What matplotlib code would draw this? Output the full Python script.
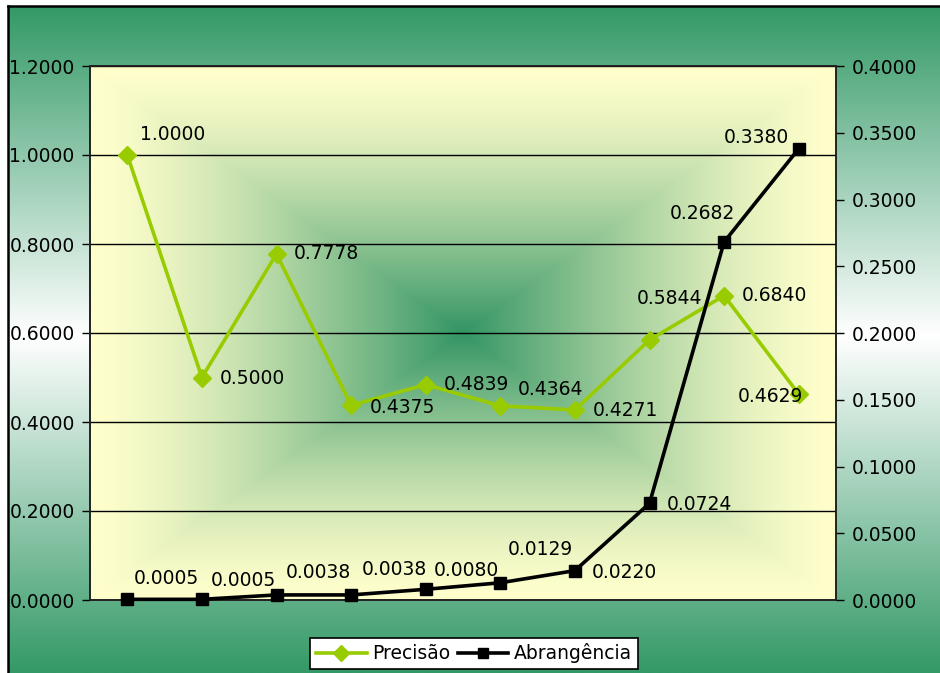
import numpy as np
import matplotlib
matplotlib.use("Agg")
import matplotlib.pyplot as plt
from matplotlib.ticker import FormatStrFormatter, MultipleLocator
from matplotlib.lines import Line2D

# ---- data ----
categories = list(range(10))
precisao = [1.0000, 0.5000, 0.7778, 0.4375, 0.4839, 0.4364, 0.4271, 0.5844, 0.6840, 0.4629]
abrangencia = [0.0005, 0.0005, 0.0038, 0.0038, 0.0080, 0.0129, 0.0220, 0.0724, 0.2682, 0.3380]
precisao_labels = ["1.0000", "0.5000", "0.7778", "0.4375", "0.4839", "0.4364", "0.4271", "0.5844", "0.6840", "0.4629"]
abrangencia_labels = ["0.0005", "0.0005", "0.0038", "0.0038", "0.0080", "0.0129", "0.0220", "0.0724", "0.2682", "0.3380"]
series_names = ["Precisão", "Abrangência"]

# label offsets (pixels, x right / y up) — layout only
prec_off = [(45, 20), (50, -1), (50, 0), (51, -2), (51, 0), (50, 16), (51, -1), (20, 41), (50, 0), (-28, -2)]
abr_off = [(39, 21), (41, 19), (42, 22), (43, 25), (41, 19), (40, 33), (49, -2), (50, -1), (-22, 28), (-42, 11)]

W, H = 940, 673
FS = 13.5
fig = plt.figure(figsize=(W / 100, H / 100), dpi=100)
fig.patch.set_facecolor("white")

green = np.array([0x33, 0x99, 0x66]) / 255.0
white = np.array([1.0, 1.0, 1.0])
yellow = np.array([0xFF, 0xFF, 0xCC]) / 255.0

# ---- outer background (vertical gradient green-white-green) ----
bx0 = 8 / W
by1 = (H - 6) / H
bg = fig.add_axes([bx0, 0, 1 - bx0, by1], zorder=-10)
ny = 400
yy = np.linspace(0, 1, ny)
mid = (336 - 6) / (H - 6)
t = np.where(yy < mid, yy / mid, (1 - yy) / (1 - mid))
t = np.clip(t, 0, 1)
grad = green[None, :] * (1 - t[:, None]) + white[None, :] * t[:, None]
bg.imshow(grad[:, None, :], aspect="auto", extent=(0, 1, 0, 1), origin="upper")
bg.set_xlim(0, 1); bg.set_ylim(0, 1)
bg.set_xticks([]); bg.set_yticks([])
for s in ["right", "bottom"]:
    bg.spines[s].set_visible(False)
for s in ["left", "top"]:
    bg.spines[s].set_linewidth(1.8)
    bg.spines[s].set_color("black")

# ---- main axes ----
L, R, T, B = 90, 836, 66, 600
ax = fig.add_axes([L / W, (H - B) / H, (R - L) / W, (B - T) / H])
ax.set_xlim(-0.5, 9.5)
ax.set_ylim(0, 1.2)

# rectangular "from center" gradient in plot area
nx, nyy = 300, 220
gx = np.linspace(-1, 1, nx)
gy = np.linspace(-1, 1, nyy)
GX, GY = np.meshgrid(gx, gy)
lev = np.maximum(np.abs(GX), np.abs(GY))
w = np.clip(1 - lev, 0, 1) ** 1.4
center_green = np.array([0x33, 0x94, 0x64]) / 255.0
img = center_green[None, None, :] * w[..., None] + yellow[None, None, :] * (1 - w[..., None])
ax.imshow(img, aspect="auto", extent=(-0.5, 9.5, 0, 1.2), origin="lower", zorder=0)

ax.yaxis.set_major_locator(MultipleLocator(0.2))
ax.yaxis.set_major_formatter(FormatStrFormatter("%.4f"))
ax.set_xticks([])
ax.grid(axis="y", color="black", linewidth=1.0, zorder=1)
ax.set_axisbelow(False)
for s in ax.spines.values():
    s.set_color("#222222")
    s.set_linewidth(1.2)
ax.tick_params(axis="y", direction="out", length=6, width=1, labelsize=FS, pad=5, colors="black")

ax.plot(categories, precisao, color="#99CC00", linewidth=2.6, marker="D", markersize=9,
        markeredgecolor="#99CC00", markerfacecolor="#99CC00", zorder=3, clip_on=False)

ax2 = ax.twinx()
ax2.set_ylim(0, 0.4)
ax2.yaxis.set_major_locator(MultipleLocator(0.05))
ax2.yaxis.set_major_formatter(FormatStrFormatter("%.4f"))
ax2.tick_params(axis="y", direction="out", length=6, width=1, labelsize=FS, pad=5, colors="black")
for s in ax2.spines.values():
    s.set_color("#222222")
    s.set_linewidth(1.2)
ax2.plot(categories, abrangencia, color="black", linewidth=2.6, marker="s", markersize=8.5,
         markeredgecolor="black", markerfacecolor="black", zorder=3, clip_on=False)

for x, v, lab, off in zip(categories, precisao, precisao_labels, prec_off):
    ax.annotate(lab, (x, v), xytext=off, textcoords="offset pixels", ha="center", va="center",
                fontsize=FS, color="black", zorder=4)
for x, v, lab, off in zip(categories, abrangencia, abrangencia_labels, abr_off):
    ax2.annotate(lab, (x, v), xytext=off, textcoords="offset pixels", ha="center", va="center",
                 fontsize=FS, color="black", zorder=4)

handles = [
    Line2D([], [], color="#99CC00", linewidth=2.6, marker="D", markersize=8, markeredgecolor="#99CC00"),
    Line2D([], [], color="black", linewidth=2.6, marker="s", markersize=7.5),
]
leg = fig.legend(handles, series_names, loc="lower center", bbox_to_anchor=(474 / W, 4 / H), ncol=2,
                 fontsize=FS, frameon=True, fancybox=False, edgecolor="black", framealpha=1,
                 handlelength=2.7, handletextpad=0.3, columnspacing=0.4, borderpad=0.3,
                 borderaxespad=0)
leg.get_frame().set_linewidth(1.2)

fig.savefig("out.png", dpi=100)
